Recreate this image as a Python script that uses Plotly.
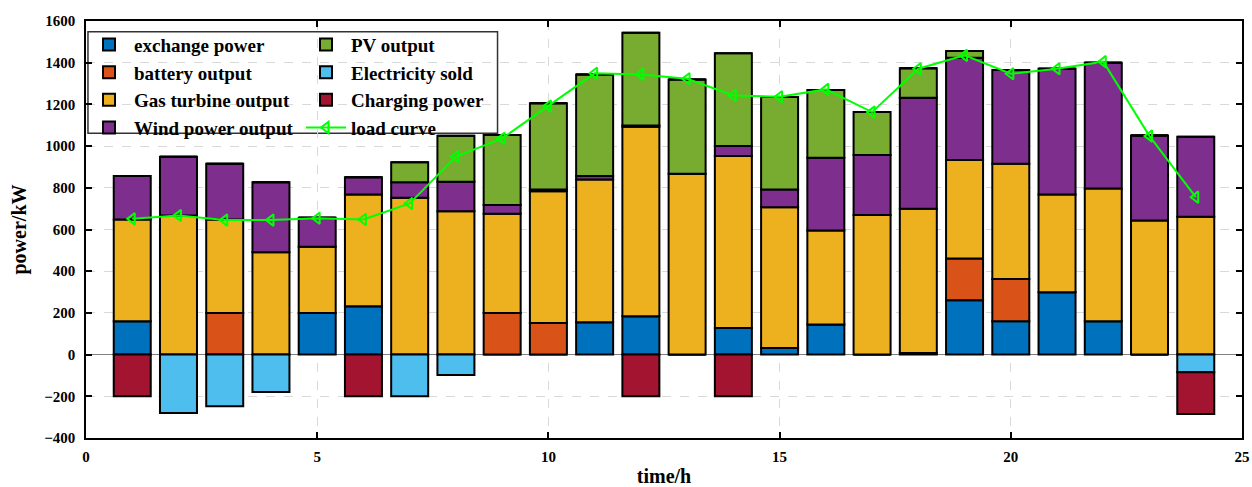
import plotly.graph_objects as go

hours = list(range(1, 25))
exchange = [160, 0, 0, 0, 200, 232, 0, 0, 0, 0, 155, 184, 0, 128, 32, 144, 0, 8, 261, 160, 299, 160, 0, 0]
battery = [0, 0, 200, 0, 0, 0, 0, 0, 200, 152, 0, 0, 0, 0, 0, 0, 0, 0, 200, 203, 0, 0, 0, 0]
gas = [488, 667, 448, 491, 317, 536, 752, 688, 475, 632, 685, 909, 867, 824, 675, 451, 669, 691, 472, 552, 469, 637, 643, 661]
wind = [208, 282, 267, 336, 139, 83, 75, 141, 42, 8, 16, 6, 0, 48, 85, 349, 288, 533, 491, 450, 603, 603, 408, 384]
pv = [0, 0, 0, 0, 0, 0, 96, 221, 336, 413, 488, 445, 453, 445, 443, 325, 206, 141, 32, 0, 0, 0, 0, 0]
sold = [0, -280, -248, -179, 0, 0, -200, -98, 0, 0, 0, 0, 0, 0, 0, 0, 0, 0, 0, 0, 0, 0, 0, -85]
charging = [-200, 0, 0, 0, 0, -200, 0, 0, 0, 0, 0, -200, 0, -200, 0, 0, 0, 0, 0, 0, 0, 0, 0, -200]
load = [651, 667, 645, 645, 654, 648, 725, 950, 1037, 1192, 1349, 1344, 1323, 1243, 1237, 1272, 1163, 1371, 1435, 1347, 1371, 1405, 1048, 755]

FONT = "Liberation Serif"
fig = go.Figure()

series = [
    ("exchange power", exchange, "#0072BD", "legend"),
    ("battery output", battery, "#D95319", "legend"),
    ("Gas turbine output", gas, "#EDB120", "legend"),
    ("Wind power output", wind, "#7E2F8E", "legend"),
    ("PV output", pv, "#77AC30", "legend2"),
    ("Electricity sold", sold, "#4DBEEE", "legend2"),
    ("Charging power", charging, "#A2142F", "legend2"),
]
for name, vals, col, lg in series:
    fig.add_trace(go.Bar(x=hours, y=vals, name=name, legend=lg,
                         marker=dict(color=col, line=dict(color="black", width=2))))

fig.add_trace(go.Scatter(x=hours, y=load, name="load curve", legend="legend2",
                         mode="lines+markers",
                         line=dict(color="#00FF00", width=2),
                         marker=dict(symbol="triangle-left-open", size=10, color="#00FF00",
                                     line=dict(width=2))))

axis_common = dict(showline=True, linecolor="black", linewidth=1.5, mirror="ticks",
                   ticks="inside", ticklen=6, tickcolor="black", tickwidth=1.5,
                   showgrid=True, gridcolor="#d9d9d9", griddash="dash", gridwidth=1,
                   automargin=False,
                   tickfont=dict(family=FONT, size=15, color="black", weight="bold"))

legend_font = dict(family=FONT, size=19, color="black", weight="bold")

fig.update_layout(
    width=1252, height=487,
    margin=dict(l=86, r=10, t=21, b=49),
    barmode="relative", bargap=0.2,
    plot_bgcolor="white", paper_bgcolor="white",
    font=dict(family=FONT, color="black", weight="bold"),
    xaxis=dict(range=[0, 25], tickvals=[0, 5, 10, 15, 20, 25], zeroline=False,
               ticklabelstandoff=4,
               title=dict(text="time/h", font=dict(family=FONT, size=20, weight="bold"), standoff=6),
               **axis_common),
    yaxis=dict(range=[-400, 1600], dtick=200, zeroline=True, zerolinecolor="#808080", zerolinewidth=1,
               ticklabelstandoff=6,
               title=dict(text="power/kW", font=dict(family=FONT, size=20, weight="bold"), standoff=12),
               **axis_common),
    legend=dict(x=-0.0017, y=0.989, xanchor="left", yanchor="top", bgcolor="rgba(0,0,0,0)",
                borderwidth=0, tracegroupgap=0, itemwidth=40, font=legend_font),
    legend2=dict(x=0.186, y=0.989, xanchor="left", yanchor="top", bgcolor="rgba(0,0,0,0)",
                 borderwidth=0, tracegroupgap=0, itemwidth=40, font=legend_font),
    shapes=[dict(type="rect", xref="paper", yref="paper", x0=0.0017, x1=0.356, y0=0.731, y1=0.974,
                 line=dict(color="#333333", width=1.5), fillcolor="white", layer="below")],
)

fig.write_html("out.html")
